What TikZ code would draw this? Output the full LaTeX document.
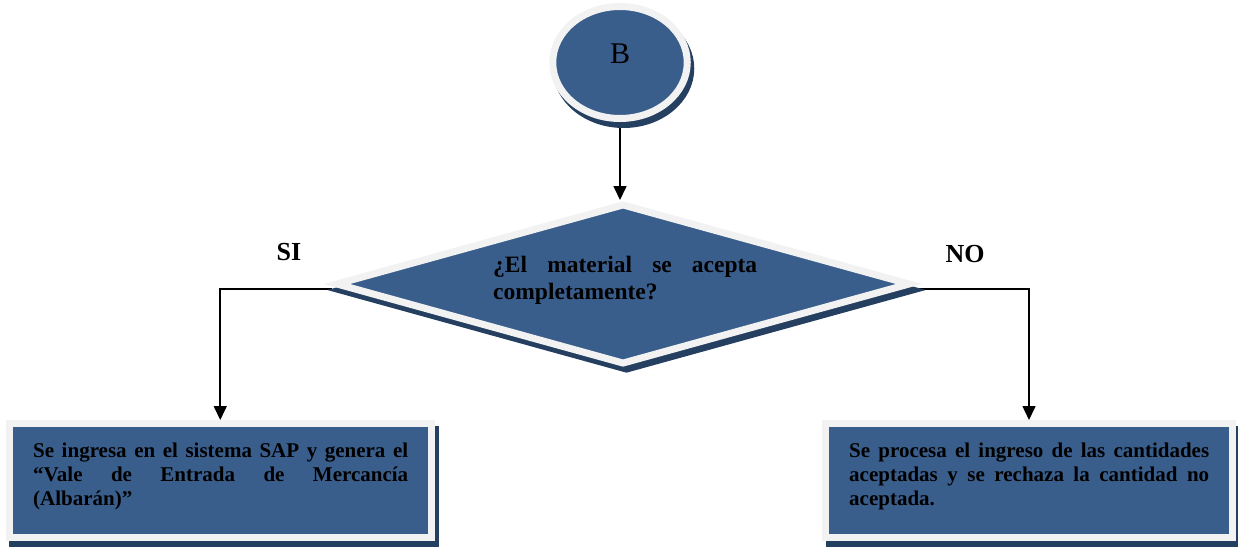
\documentclass[tikz,border=0pt]{standalone}
\usepackage{fontspec}
\setmainfont{Liberation Serif}
\usetikzlibrary{arrows.meta,shapes.geometric,backgrounds}
\definecolor{fillb}{RGB}{58,94,140}
\definecolor{bord}{RGB}{242,242,242}
\definecolor{shd}{RGB}{36,63,96}
\begin{document}
\begin{tikzpicture}[x=1pt,y=-1pt,
  shapebase/.style={fill=fillb, draw=bord, line width=7pt, inner sep=0pt,
    preaction={fill=shd, draw=shd, transform canvas={xshift=3.5pt,yshift=-6pt}}},
  boxnode/.style={shapebase, rectangle, minimum height=114pt},
  decision/.style={shapebase, diamond, minimum width=575pt, minimum height=161pt},
  startnode/.style={shapebase, ellipse, minimum width=134.5pt, minimum height=112pt,
    font=\fontsize{30}{36}\selectfont, text depth=17pt},
  boxtext/.style={anchor=base west, align=justify, inner sep=0pt,
    font=\bfseries\fontsize{21}{24}\selectfont},
  dtext/.style={anchor=base west, align=justify, inner sep=0pt, text width=264pt,
    font=\bfseries\fontsize{23.5}{27}\selectfont},
  lab/.style={font=\bfseries\fontsize{26}{30}\selectfont, inner sep=0pt},
  conn/.style={line width=1.6pt, -{Triangle[width=13pt,length=14pt]}}
]
\useasboundingbox (0,0) rectangle (1238,546);

\node[startnode] (B) at (620,62.5) {B};
\node[decision] (D) at (623,284) {};
\node[dtext] (dt) at (493,272) {¿El material se acepta\linebreak completamente?};

\node[boxnode, minimum width=422.5pt] (L) at (220.25,480.5) {};
\node[boxtext, text width=375pt] (lt) at (33,457)
  {Se ingresa en el sistema SAP y genera el\linebreak “Vale de Entrada de Mercancía\linebreak (Albarán)”};

\node[boxnode, minimum width=407pt] (R) at (1029,480.5) {};
\node[boxtext, text width=360pt] (rt) at (849,457)
  {Se procesa el ingreso de las cantidades\linebreak aceptadas y se rechaza la cantidad no\linebreak aceptada.};

\node[lab] (si) at (289,252) {SI};
\node[lab] (no) at (965,254) {NO};

\begin{scope}[on background layer]
\draw[conn] (B.south) -- (B.south |- D.north);
\draw[conn] ([yshift=-5pt]D.west) -| (L.north);
\draw[conn] ([yshift=-5pt]D.east) -| (R.north);
\end{scope}
\end{tikzpicture}
\end{document}
